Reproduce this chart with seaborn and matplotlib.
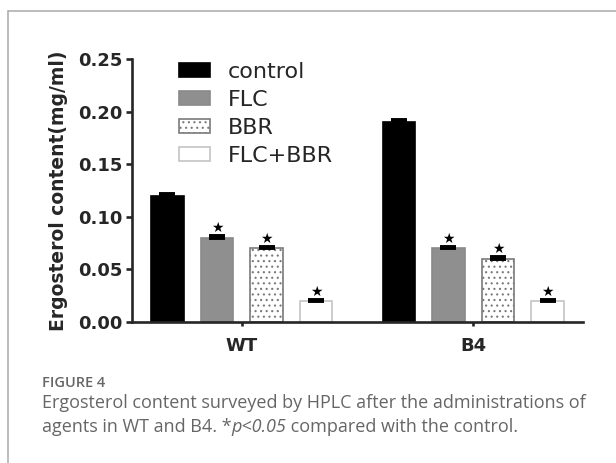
import numpy as np
import pandas as pd
import matplotlib
matplotlib.use('Agg')
import matplotlib.pyplot as plt
import seaborn as sns
from matplotlib.lines import Line2D

# dados
strains = ['WT', 'B4']
treatments = ['control', 'FLC', 'BBR', 'FLC+BBR']
wt_content = [0.120, 0.080, 0.070, 0.020]
b4_content = [0.190, 0.070, 0.060, 0.020]
wt_err = [0.0015, 0.0015, 0.0015, 0.0010]
b4_err = [0.0020, 0.0015, 0.0015, 0.0010]
wt_signif = [False, True, True, True]
b4_signif = [False, True, True, True]

df = pd.DataFrame({
    'strain': np.repeat(strains, len(treatments)),
    'treatment': treatments * len(strains),
    'content': wt_content + b4_content,
    'err': wt_err + b4_err,
    'signif': wt_signif + b4_signif,
})

sns.set_style('ticks')
plt.rcParams['font.family'] = ['DejaVu Sans']
plt.rcParams['hatch.linewidth'] = 0.8

W, H = 616, 463
fig = plt.figure(figsize=(W / 100, H / 100), dpi=100)
ax = fig.add_axes([132 / W, 1 - 321.7 / H, 451 / W, (321.7 - 59) / H])

fills = {'control': '#000000', 'FLC': '#8f8f8f', 'BBR': '#ffffff', 'FLC+BBR': '#ffffff'}
edges = {'control': '#000000', 'FLC': '#8a8a8a', 'BBR': '#7a7a7a', 'FLC+BBR': '#c4c4c4'}
hatches = {'BBR': '...'}

sns.barplot(data=df, x='strain', y='content', hue='treatment', order=strains,
            hue_order=treatments, palette=fills, saturation=1, width=0.857,
            gap=0.343, errorbar=None, legend=False, ax=ax)

bar_conts = list(ax.containers)
for cont, t in zip(bar_conts, treatments):
    sub = df[df.treatment == t].set_index('strain').loc[strains]
    for bar, (_, row) in zip(cont, sub.iterrows()):
        bar.set_edgecolor(edges[t])
        bar.set_linewidth(1.2)
        bar.set_hatch(hatches.get(t, ''))
        x = bar.get_x() + bar.get_width() / 2
        top = bar.get_height()
        e = row['err']
        ax.errorbar(x, top, yerr=[[0], [e]], color='black', capsize=5.5,
                    capthick=2.8, elinewidth=1.2, zorder=3)
        if row['signif']:
            ax.annotate('★', (x, top + e), xytext=(0, 0.5),
                        textcoords='offset points', ha='center', va='bottom',
                        fontsize=10, color='black')

# legenda
ax.legend([c[0] for c in bar_conts], treatments, loc='upper left',
          bbox_to_anchor=(179 / W, 1 - 62 / H), bbox_transform=fig.transFigure,
          frameon=False, fontsize=16, handlelength=1.4, handleheight=0.62,
          handletextpad=0.8, labelspacing=0.36, borderpad=0, borderaxespad=0)

ax.set_ylim(0, 0.25)
ax.set_yticks([0, 0.05, 0.10, 0.15, 0.20, 0.25])
ax.yaxis.set_major_formatter(matplotlib.ticker.FormatStrFormatter('%.2f'))
ax.set_xlim(-0.474, 1.474)
sns.despine(ax=ax)
for s in ['left', 'bottom']:
    ax.spines[s].set_linewidth(1.9)
ax.tick_params(axis='y', length=4.5, width=1.9, labelsize=13, pad=2)
ax.tick_params(axis='x', length=3, width=1.9, labelsize=13, pad=8)
for lbl in ax.get_xticklabels() + ax.get_yticklabels():
    lbl.set_fontweight('bold')
ax.set_xlabel('')
ax.set_ylabel('Ergosterol content(mg/ml)', fontsize=13.5, fontweight='bold')
ax.yaxis.set_label_coords(-0.142, 0.5)

# moldura e legenda da figura
gray = '#aaaaaa'
fig.add_artist(Line2D([8 / W, 8 / W], [0, 1 - 10.7 / H], color=gray, lw=1.1))
fig.add_artist(Line2D([8 / W, 1], [1 - 10.7 / H, 1 - 10.7 / H], color=gray, lw=1.1))

cap = dict(family='Open Sans', color='#666666')
fig.text(42 / W, 1 - 387 / H, 'FIGURE 4', fontsize=10.5, weight='semibold', **cap)
fig.text(42 / W, 1 - 408 / H,
         'Ergosterol content surveyed by HPLC after the administrations of',
         fontsize=13.0, weight='normal', **cap)

fig.canvas.draw()
r = fig.canvas.get_renderer()
x0 = 42 / W
pieces = [('agents in WT and B4. *', 'normal'), ('p<0.05', 'italic'),
          (' compared with the control.', 'normal')]
for txt, st in pieces:
    t = fig.text(x0, 1 - 432 / H, txt, fontsize=13.0, weight='normal', style=st, **cap)
    x0 = t.get_window_extent(r).x1 / W

fig.savefig('out.png', dpi=100)
